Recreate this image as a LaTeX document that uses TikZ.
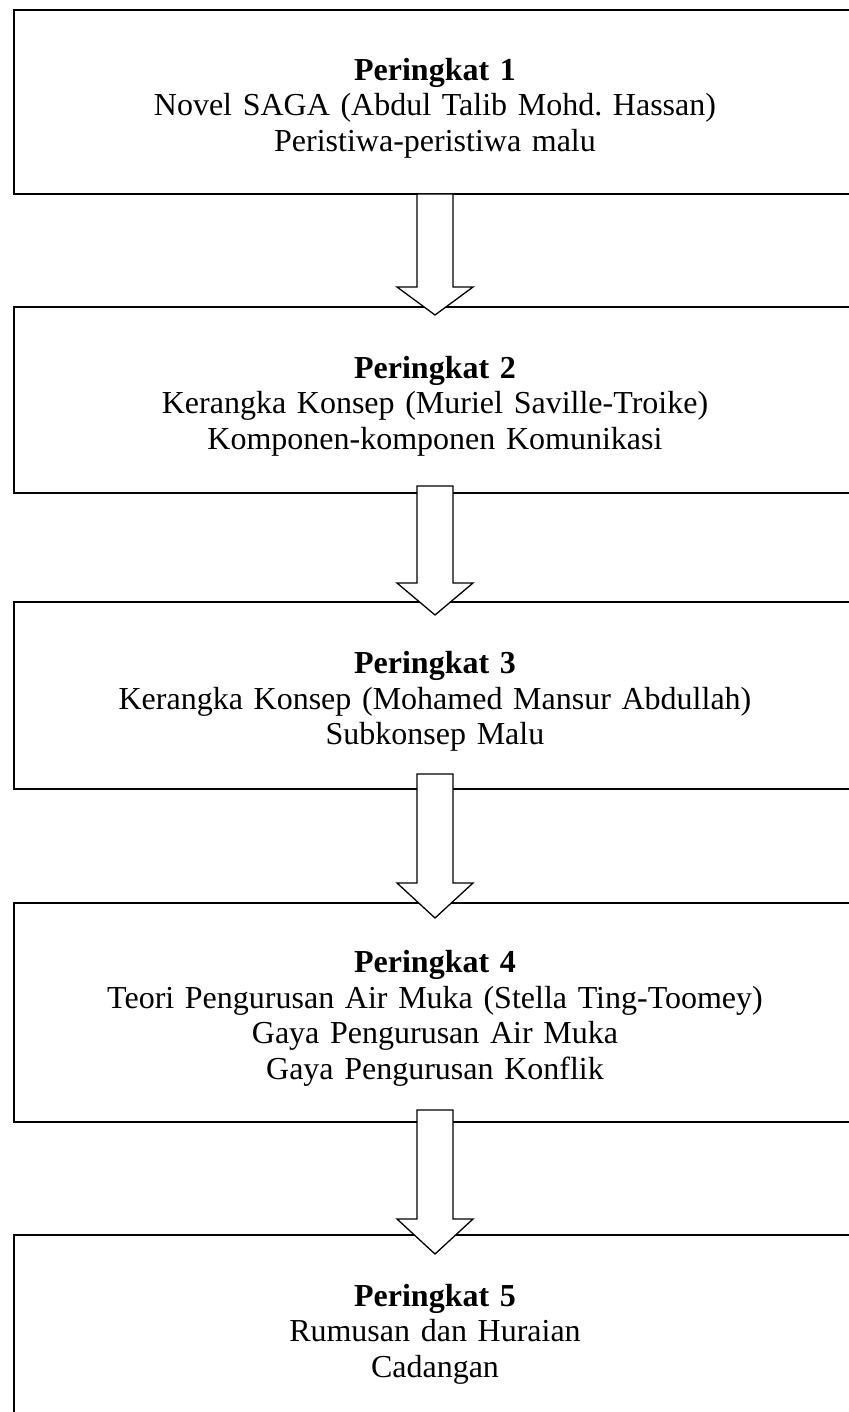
\documentclass[tikz,border=0pt]{standalone}
\usepackage{fontspec}
\setmainfont{Liberation Serif}
\usetikzlibrary{calc}
\frenchspacing
\tikzset{
  box/.style={draw=black, line width=2pt, rectangle, minimum width=842pt,
    text width=800pt, align=center, anchor=north, inner sep=0pt, outer sep=0pt,
    font=\fontsize{32}{35.5}\selectfont\frenchspacing,
    execute at begin node={\rule{0pt}{34pt}}},
  blk/.style={draw=black, fill=white, line width=1.3pt, line join=miter},
}
\newcommand\blockarrow[5]{%
  \coordinate (#1s) at ($(#1.south)+(0,#3)$);
  \coordinate (#1t) at ($(#2.north)+(0,-#4)$);
  \draw[blk] ($(#1s)+(-18pt,0)$) -- ($(#1t)+(-18pt,#5)$) -- ($(#1t)+(-38pt,#5)$) -- (#1t)
    -- ($(#1t)+(38pt,#5)$) -- ($(#1t)+(18pt,#5)$) -- ($(#1s)+(18pt,0)$) -- cycle;
}
\begin{document}
\begin{tikzpicture}
\useasboundingbox[fill=white] (0,0) rectangle (848pt,-1412pt);
\node[box, minimum height=184pt] (b1) at (435pt,-10pt)
  {\textbf{Peringkat 1}\\Novel SAGA (Abdul Talib Mohd. Hassan)\\Peristiwa-peristiwa malu};
\node[box, minimum height=186pt] (b2) at (435pt,-307pt)
  {\textbf{Peringkat 2}\\Kerangka Konsep (Muriel Saville-Troike)\\Komponen-komponen Komunikasi};
\node[box, minimum height=187pt] (b3) at (435pt,-602pt)
  {\textbf{Peringkat 3}\\Kerangka Konsep (Mohamed Mansur Abdullah)\\Subkonsep Malu};
\node[box, minimum height=219pt] (b4) at (435pt,-903pt)
  {\textbf{Peringkat 4}\\Teori Pengurusan Air Muka (Stella Ting-Toomey)\\Gaya Pengurusan Air Muka\\Gaya Pengurusan Konflik};
\node[box, minimum height=186pt] (b5) at (435pt,-1235pt)
  {\textbf{Peringkat 5}\\Rumusan dan Huraian\\Cadangan};
\blockarrow{b1}{b2}{0pt}{8pt}{28pt}
\blockarrow{b2}{b3}{7pt}{13pt}{32pt}
\blockarrow{b3}{b4}{15pt}{15pt}{35pt}
\blockarrow{b4}{b5}{12pt}{19pt}{35pt}
\end{tikzpicture}
\end{document}
